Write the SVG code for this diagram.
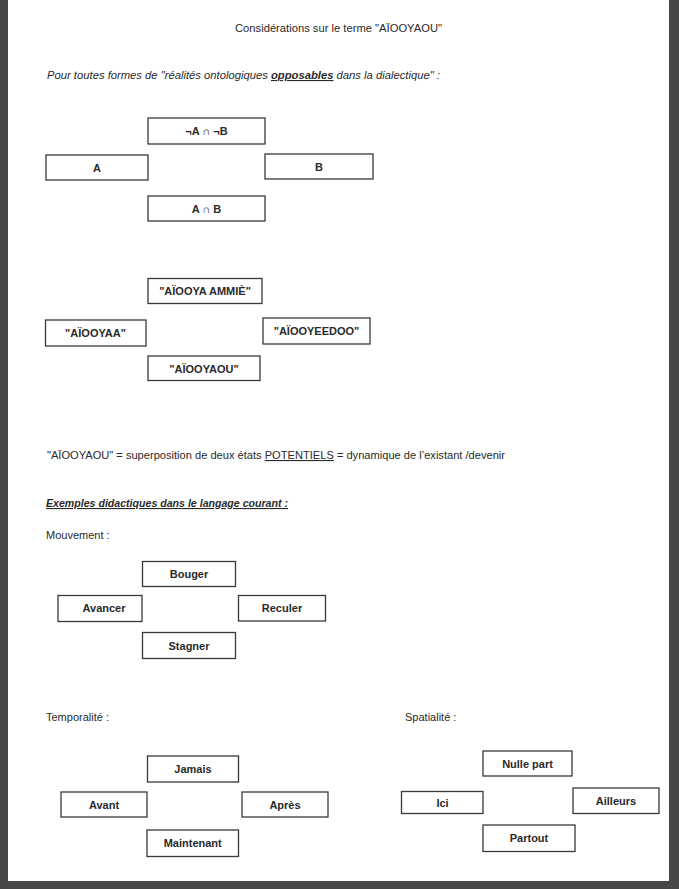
<svg xmlns="http://www.w3.org/2000/svg" width="679" height="889" viewBox="0 0 679 889">
<style>
.bg{fill:#474747}
.page{fill:#ffffff}
.box{fill:#ffffff;stroke:#3a3a3a;stroke-width:1.3}
.lbl{font-family:"Liberation Sans",Arial,sans-serif;font-size:11px;font-weight:bold;fill:#2a2a2a;text-anchor:middle}
.txt{font-family:"Liberation Sans",Arial,sans-serif;font-size:11px;fill:#2a2a2a}
.it{font-style:italic}
.ul{text-decoration:underline}
</style>
<rect class="bg" x="0" y="0" width="679" height="889"/>
<rect class="page" x="8" y="0" width="661" height="881"/>

<g id="texts">
<text class="txt" x="338.5" y="32" text-anchor="middle" textLength="207" lengthAdjust="spacingAndGlyphs">Considérations sur le terme "AÏOOYAOU"</text>
<text class="txt it" x="47" y="79" textLength="393" lengthAdjust="spacingAndGlyphs">Pour toutes formes de "réalités ontologiques <tspan class="ul" font-weight="bold">opposables</tspan> dans la dialectique" :</text>
<text class="txt" x="47" y="459" textLength="458" lengthAdjust="spacingAndGlyphs">"AÏOOYAOU" = superposition de deux états <tspan class="ul">POTENTIELS</tspan> = dynamique de l’existant /devenir</text>
<text class="txt it ul" x="46" y="507" font-weight="bold" textLength="242" lengthAdjust="spacingAndGlyphs">Exemples didactiques dans le langage courant :</text>
<text class="txt" x="46" y="539">Mouvement :</text>
<text class="txt" x="46" y="721">Temporalité :</text>
<text class="txt" x="405" y="721">Spatialité :</text>
</g>

<g id="connectors"/>

<g id="notAnotB"><rect class="box" x="148" y="118" width="117" height="26"/><text class="lbl" x="206.5" y="135">¬A ∩ ¬B</text></g>
<g id="A"><rect class="box" x="46" y="155" width="102" height="25"/><text class="lbl" x="97" y="171.5">A</text></g>
<g id="B"><rect class="box" x="265" y="154" width="108" height="25"/><text class="lbl" x="319" y="170.5">B</text></g>
<g id="AandB"><rect class="box" x="148" y="196" width="117" height="25"/><text class="lbl" x="206.5" y="212.5">A ∩ B</text></g>

<g id="ammie"><rect class="box" x="148" y="278.5" width="114" height="25"/><text class="lbl" x="205" y="295">"AÏOOYA AMMIÈ"</text></g>
<g id="aiooyaa"><rect class="box" x="45.5" y="320" width="100.5" height="26"/><text class="lbl" x="95.5" y="337">"AÏOOYAA"</text></g>
<g id="aiooyeedoo"><rect class="box" x="263" y="318" width="107" height="26"/><text class="lbl" x="316.5" y="334.5">"AÏOOYEEDOO"</text></g>
<g id="aiooyaou"><rect class="box" x="148" y="356" width="112" height="24.5"/><text class="lbl" x="204" y="372.5">"AÏOOYAOU"</text></g>

<g id="bouger"><rect class="box" x="142.5" y="561.5" width="93" height="25"/><text class="lbl" x="189" y="578">Bouger</text></g>
<g id="avancer"><rect class="box" x="58" y="595.5" width="84" height="26"/><text class="lbl" x="104" y="612">Avancer</text></g>
<g id="reculer"><rect class="box" x="238.5" y="595.5" width="87" height="25.5"/><text class="lbl" x="282" y="612">Reculer</text></g>
<g id="stagner"><rect class="box" x="142.5" y="632.5" width="93" height="26"/><text class="lbl" x="189" y="649.5">Stagner</text></g>

<g id="jamais"><rect class="box" x="147.5" y="756" width="91" height="26"/><text class="lbl" x="193" y="773">Jamais</text></g>
<g id="avant"><rect class="box" x="61" y="792" width="86" height="25"/><text class="lbl" x="104" y="808.5">Avant</text></g>
<g id="apres"><rect class="box" x="242" y="792" width="86" height="25"/><text class="lbl" x="285" y="808.5">Après</text></g>
<g id="maintenant"><rect class="box" x="147" y="830" width="91.5" height="26.5"/><text class="lbl" x="192.7" y="847">Maintenant</text></g>

<g id="nullepart"><rect class="box" x="483" y="751" width="89" height="25"/><text class="lbl" x="527.5" y="767.5">Nulle part</text></g>
<g id="ici"><rect class="box" x="401.5" y="791.5" width="81.5" height="22"/><text class="lbl" x="442.5" y="806.5">Ici</text></g>
<g id="ailleurs"><rect class="box" x="573" y="788" width="86" height="25.5"/><text class="lbl" x="616" y="804.5">Ailleurs</text></g>
<g id="partout"><rect class="box" x="483" y="825" width="92" height="26.5"/><text class="lbl" x="529" y="842">Partout</text></g>
</svg>
